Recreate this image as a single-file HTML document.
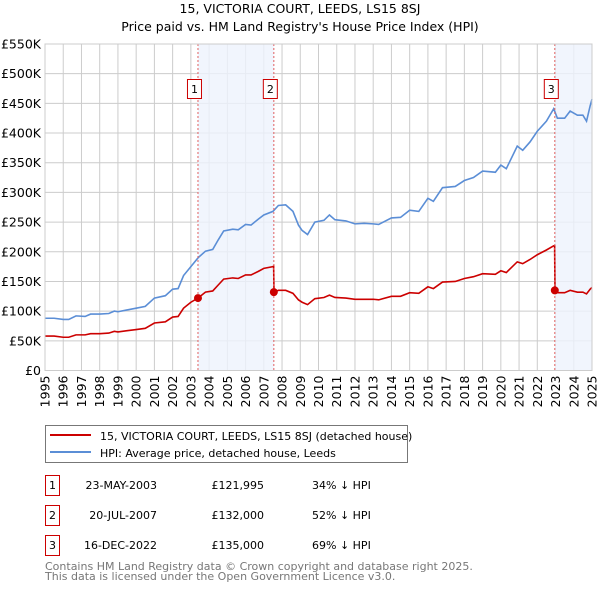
<!DOCTYPE html>
<html><head><meta charset="utf-8"><style>
body{margin:0;background:#fff;font-family:"DejaVu Sans","Liberation Sans",sans-serif;}
svg text{font-family:"DejaVu Sans","Liberation Sans",sans-serif;}
</style></head><body>
<svg id="chart" width="600" height="590" xmlns="http://www.w3.org/2000/svg">
<text x="300" y="13" text-anchor="middle" font-size="12.5" fill="#000">15, VICTORIA COURT, LEEDS, LS15 8SJ</text>
<text x="300" y="31" text-anchor="middle" font-size="12.5" fill="#000">Price paid vs. HM Land Registry's House Price Index (HPI)</text>
<g id="grid"></g><g id="shade"></g><g id="series"></g><g id="axes"></g>
<g>
<rect x="45.5" y="425.5" width="362" height="37" fill="#fff" stroke="#777"/>
<line x1="50" y1="435" x2="91" y2="435" stroke="#cc0000" stroke-width="2"/>
<text x="100" y="440" font-size="11">15, VICTORIA COURT, LEEDS, LS15 8SJ (detached house)</text>
<line x1="50" y1="452" x2="91" y2="452" stroke="#5b8ed6" stroke-width="2"/>
<text x="100" y="457" font-size="11">HPI: Average price, detached house, Leeds</text>
</g>
<g id="table"></g>
<text x="45" y="570" font-size="11" fill="#777">Contains HM Land Registry data © Crown copyright and database right 2025.</text>
<text x="45" y="580" font-size="11" fill="#777">This data is licensed under the Open Government Licence v3.0.</text>
</svg>
<script>
const hpiDates=[1995.0,1995.5,1996.0,1996.3,1996.7,1997.2,1997.5,1998.0,1998.5,1998.8,1999.0,1999.5,2000.0,2000.5,2001.0,2001.6,2002.0,2002.3,2002.6,2003.0,2003.4,2003.8,2004.2,2004.5,2004.8,2005.3,2005.6,2006.0,2006.3,2006.7,2007.0,2007.5,2007.8,2008.2,2008.6,2008.9,2009.1,2009.4,2009.8,2010.3,2010.6,2010.9,2011.5,2012.0,2012.5,2013.0,2013.3,2014.0,2014.5,2015.0,2015.5,2016.0,2016.3,2016.8,2017.5,2018.0,2018.5,2019.0,2019.7,2020.0,2020.3,2020.9,2021.2,2021.6,2022.0,2022.5,2022.9,2023.1,2023.5,2023.8,2024.2,2024.5,2024.7,2024.9,2025.0];
const hpiValues=[88,88,86,86,92,91,95,95,96,100,99,102,105,108,122,126,137,138,160,175,190,201,204,220,235,238,237,246,245,255,262,268,278,279,268,245,236,229,250,253,262,254,252,247,248,247,246,257,258,270,268,290,285,308,310,320,325,336,334,346,340,378,371,385,403,420,441,425,425,437,430,430,420,446,457];
const priceDates=[1995,1995.5,1996,1996.3,1996.7,1997.2,1997.5,1998,1998.5,1998.8,1999,1999.5,2000,2000.5,2001,2001.6,2002,2002.3,2002.6,2003,2003.39,2003.8,2004.2,2004.5,2004.8,2005.3,2005.6,2006,2006.3,2006.7,2007,2007.5,2007.54,2007.56,2007.8,2008.2,2008.6,2008.9,2009.1,2009.4,2009.8,2010.3,2010.6,2010.9,2011.5,2012,2012.5,2013,2013.3,2014,2014.5,2015,2015.5,2016,2016.3,2016.8,2017.5,2018,2018.5,2019,2019.7,2020,2020.3,2020.9,2021.2,2021.6,2022,2022.5,2022.9,2022.95,2022.97,2023.1,2023.5,2023.8,2024.2,2024.5,2024.7,2024.9,2025];
const priceValues=[58,58,56,56,60,60,62,62,63,66,65,67,69,71,80,82,90,91,105,115,122,132,134,144,154,156,155,161,161,167,172,175,176,132,135,135,130,119,115,111,121,123,127,123,122,120,120,120,119,125,125,131,130,141,138,149,150,155,158,163,162,168,165,183,180,187,195,203,210,210,135,131,131,135,132,132,129,137,140];
const saleLabels=["1","2","3"];
const saleDates=[2003.39,2007.55,2022.96];
const salePrices=[121.995,132,135];
const saleDateText=["23-MAY-2003","20-JUL-2007","16-DEC-2022"];
const salePriceText=["£121,995","£132,000","£135,000"];
const saleHpiText=["34% ↓ HPI","52% ↓ HPI","69% ↓ HPI"];
const yTicks=[0,50,100,150,200,250,300,350,400,450,500,550];
const yTickLabels=["£0","£50K","£100K","£150K","£200K","£250K","£300K","£350K","£400K","£450K","£500K","£550K"];
const xYears=[1995,1996,1997,1998,1999,2000,2001,2002,2003,2004,2005,2006,2007,2008,2009,2010,2011,2012,2013,2014,2015,2016,2017,2018,2019,2020,2021,2022,2023,2024,2025];

const L=45,R=592,T=44,B=370.5;
const xs=y=>L+(y-1995)/30*(R-L);
const ys=v=>B-v/550*(B-T);
const NS="http://www.w3.org/2000/svg";
function mk(tag,attrs,parent,txt){const e=document.createElementNS(NS,tag);for(const k in attrs)e.setAttribute(k,attrs[k]);if(txt!==undefined)e.textContent=txt;parent.appendChild(e);return e;}
const grid=document.getElementById('grid'),shade=document.getElementById('shade'),ser=document.getElementById('series'),axes=document.getElementById('axes'),table=document.getElementById('table');
yTicks.forEach((v,i)=>{
 const g=mk('line',{x1:L,x2:R,y1:ys(v),y2:ys(v),stroke:'#cccccc','stroke-width':1},grid);
 
 
 const t=mk('text',{x:L-4,y:ys(v)+4.5,'text-anchor':'end','font-size':12.5,fill:'#000'},axes,yTickLabels[i]);
 
 
});
xYears.forEach(yr=>{
 const g=mk('line',{x1:xs(yr),x2:xs(yr),y1:T,y2:B,stroke:'#cccccc','stroke-width':1},grid);
 
 
 const t=mk('text',{x:0,y:0,'text-anchor':'end','font-size':12.5,transform:`translate(${xs(yr)+4.5},${B+5}) rotate(-90)`},axes,String(yr));
 
 
});
// shaded ranges
[[saleDates[0],saleDates[1]],[saleDates[2],2025]].forEach(r=>{
 const s=mk('rect',{x:xs(r[0]),y:T,width:xs(r[1])-xs(r[0]),height:B-T,fill:'#eef3fc',opacity:0.8},shade);
 
 
});
const hp=mk('polyline',{points:hpiDates.map((d,i)=>xs(d)+','+ys(hpiValues[i])).join(' '),fill:'none',stroke:'#5b8ed6','stroke-width':1.6},ser);


const pp=mk('polyline',{points:priceDates.map((d,i)=>xs(d)+','+ys(priceValues[i])).join(' '),fill:'none',stroke:'#cc0000','stroke-width':1.6},ser);


saleDates.forEach((d,i)=>{
 const x=xs(d);
 const l=mk('line',{x1:x,x2:x,y1:T,y2:B,stroke:'#e06060','stroke-width':1,'stroke-dasharray':'2,2'},ser);
 
 
 const c=mk('circle',{cx:x,cy:ys(salePrices[i]),r:4,fill:'#cc0000'},ser);
 
 
 const b=mk('rect',{x:x-10.5,y:79.5,width:14,height:19,fill:'#fff',stroke:'#cc0000'},ser);
 
 
 const t=mk('text',{x:x-3.5,y:93,'text-anchor':'middle','font-size':11},ser,saleLabels[i]);
 
 
 // table row
 const ry=483+i*30;
 const tb=mk('rect',{x:45.5,y:ry-7.5,width:14,height:20,fill:'#fff',stroke:'#cc0000'},table);
 
 
 const tn=mk('text',{x:52.5,y:ry+6,'text-anchor':'middle','font-size':11},table,saleLabels[i]);
 
 
 const td=mk('text',{x:157,y:ry+6,'text-anchor':'end','font-size':11},table,saleDateText[i]);
 
 
 const tp=mk('text',{x:264,y:ry+6,'text-anchor':'end','font-size':11},table,salePriceText[i]);
 
 
 const th=mk('text',{x:312,y:ry+6,'font-size':11},table,saleHpiText[i]);
 
 
});
const fr=mk('rect',{x:L,y:T,width:R-L,height:B-T,fill:'none',stroke:'#cccccc'},axes);


</script>
</body></html>
